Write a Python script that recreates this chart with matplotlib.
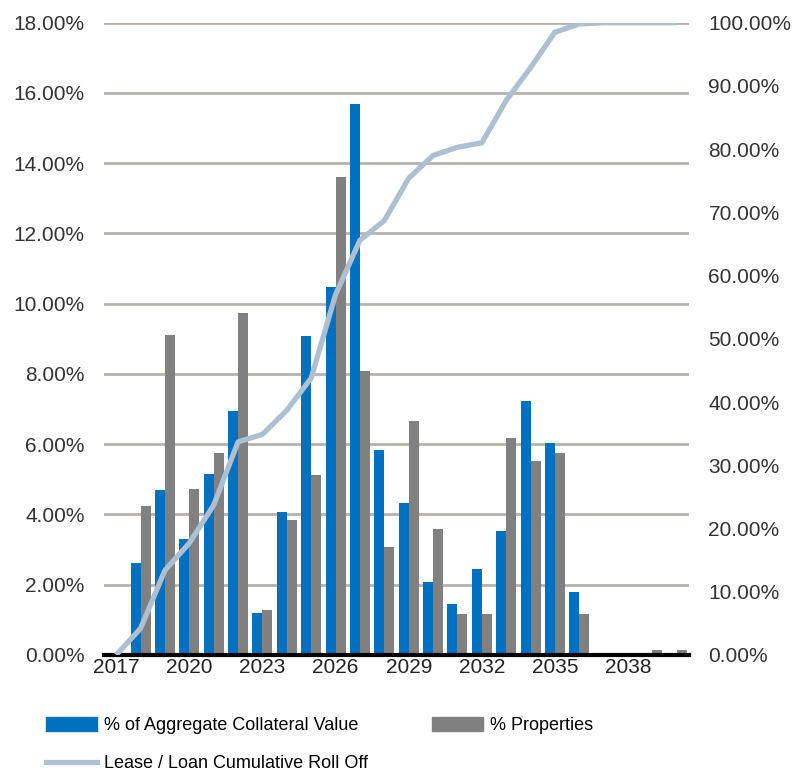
import matplotlib.pyplot as plt
import numpy as np
from matplotlib.lines import Line2D
from matplotlib.patches import Patch

years = list(range(2017, 2041))
collateral_pct = [0.00, 2.61, 4.69, 3.30, 5.15, 6.95, 1.19, 4.06, 9.07, 10.48, 15.68, 5.85,
                  4.32, 2.09, 1.45, 2.44, 3.53, 7.22, 6.04, 1.78, 0.00, 0.00, 0.00, 0.04]
properties_pct = [0.00, 4.24, 9.10, 4.73, 5.75, 9.75, 1.27, 3.83, 5.11, 13.60, 8.08, 3.07,
                  6.65, 3.60, 1.16, 1.16, 6.17, 5.52, 5.75, 1.16, 0.00, 0.00, 0.13, 0.13]
rolloff_pct = [0.0, 4.2, 13.4, 17.7, 23.7, 33.7, 34.9, 38.7, 43.8, 57.0, 65.6, 68.7,
               75.4, 79.0, 80.3, 81.0, 87.7, 92.9, 98.5, 99.8, 100.0, 100.0, 100.0, 100.0]
tick_years = [2017, 2020, 2023, 2026, 2029, 2032, 2035, 2038]

BLUE = '#0070C0'
GREY = '#808080'
LINE = '#ADC0D1'

plt.rcParams['font.family'] = ['Liberation Sans', 'DejaVu Sans']

fig = plt.figure(figsize=(7.92, 7.73), dpi=100)
ax = fig.add_axes([104 / 792, 1 - 655 / 773, 585 / 792, (655 - 22.7) / 773])

x = np.arange(len(years))
w = 0.41
ax.bar(x - w / 2, collateral_pct, width=w, color=BLUE, zorder=3)
ax.bar(x + w / 2, properties_pct, width=w, color=GREY, zorder=3)

ax.set_xlim(-0.5, len(years) - 0.5)
ax.set_ylim(0, 18)
ax.set_yticks(np.arange(0, 19, 2))
ax.set_yticklabels([f'{v:.2f}%' for v in np.arange(0, 19, 2)], fontsize=15, color='#333333')
ax.set_xticks([years.index(y) for y in tick_years])
ax.set_xticklabels([str(y) for y in tick_years], fontsize=15, color='#222222')
ax.tick_params(axis='both', length=0)
ax.tick_params(axis='y', pad=14)
ax.tick_params(axis='x', pad=2)
ax.grid(axis='y', color='#B8B2AE', linewidth=2, zorder=0)
for s in ['top', 'right', 'left']:
    ax.spines[s].set_visible(False)
ax.spines['bottom'].set_linewidth(3)
ax.spines['bottom'].set_color('black')
ax.spines['bottom'].set_zorder(5)

ax2 = ax.twinx()
ax2.plot(x, rolloff_pct, color=LINE, linewidth=3.8, zorder=4, solid_capstyle='butt')
ax2.set_ylim(0, 100)
ax2.set_yticks(np.arange(0, 101, 10))
ax2.set_yticklabels([f'{v:.2f}%' for v in np.arange(0, 101, 10)], fontsize=15, color='#333333')
ax2.tick_params(axis='y', length=0, pad=14)
for s in ['top', 'right', 'left', 'bottom']:
    ax2.spines[s].set_visible(False)

handles = [Patch(color=BLUE), Line2D([0], [0], color=LINE, linewidth=3.8), Patch(color=GREY)]
labels = ['% of Aggregate Collateral Value', 'Lease / Loan Cumulative Roll Off', '% Properties']
fig.legend(handles, labels, loc='upper left', bbox_to_anchor=(30 / 792, 1 - 701 / 773),
           ncol=2, frameon=False, fontsize=13, handlelength=2.8, handleheight=0.8,
           handletextpad=0.4, columnspacing=3.55, labelspacing=1.15,
           prop={'family': ['Liberation Sans'], 'size': 13})

plt.savefig('out.png', dpi=100)
